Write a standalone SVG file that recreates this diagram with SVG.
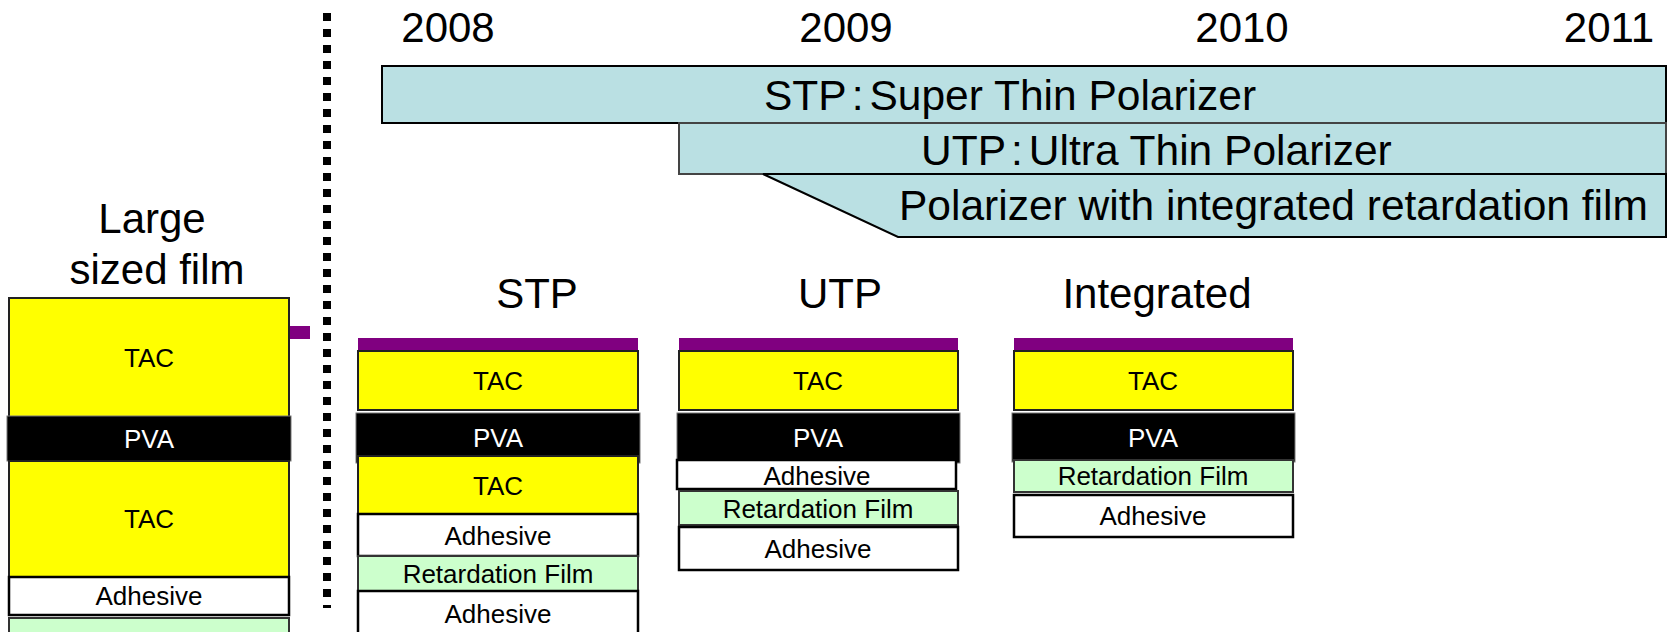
<svg xmlns="http://www.w3.org/2000/svg" width="1668" height="632" viewBox="0 0 1668 632">
  <style>
    text { font-family: "Liberation Sans", Arial, sans-serif; fill: #000; }
    .lbl { font-size: 26px; text-anchor: middle; }
    .big { font-size: 42px; text-anchor: middle; }
    .band-txt { font-size: 42.5px; }
    .wht { fill: #fff; }
    .tac { fill: #FFFF00; stroke: #222; stroke-width: 2; }
    .pva { fill: #000; stroke: #777; stroke-width: 1; }
    .adh { fill: #fff; stroke: #000; stroke-width: 2.5; }
    .ret { fill: #CCFFCC; stroke: #333; stroke-width: 2; }
    .cap { fill: #800080; }
    .band { fill: #BAE0E3; stroke: #000; stroke-width: 2; }
    .band2 { fill: #BAE0E3; stroke: #444; stroke-width: 2; }
  </style>

  <!-- years -->
  <g id="years">
    <text class="big" x="448" y="42">2008</text>
    <text class="big" x="846" y="42">2009</text>
    <text class="big" x="1242" y="42">2010</text>
    <text class="big" x="1609" y="42">2011</text>
  </g>

  <!-- timeline bands -->
  <g id="band-stp">
    <rect class="band" x="382" y="66" width="1284" height="57"/>
    <text class="band-txt" x="764" y="110">STP<tspan dx="5">:</tspan><tspan dx="6">Super Thin Polarizer</tspan></text>
  </g>
  <g id="band-utp">
    <rect class="band2" x="679" y="123" width="987" height="51"/>
    <text class="band-txt" x="921" y="165">UTP<tspan dx="5">:</tspan><tspan dx="6">Ultra Thin Polarizer</tspan></text>
  </g>
  <g id="band-integrated">
    <polygon class="band" points="763,174 1666,174 1666,237 898,237"/>
    <text class="band-txt" x="899" y="220">Polarizer with integrated retardation film</text>
  </g>

  <!-- separator -->
  <g id="connectors">
    <line x1="327" y1="13" x2="327" y2="608" stroke="#000" stroke-width="8" stroke-dasharray="8 8"/>
  </g>

  <!-- large sized film stack -->
  <g id="stack-large">
    <text class="big" x="152" y="233">Large</text>
    <text class="big" x="157" y="284">sized film</text>
    <rect class="cap" x="289" y="326" width="21" height="13"/>
    <rect class="tac" x="9" y="298" width="280" height="119"/>
    <rect class="pva" x="7" y="416" width="284" height="45"/>
    <rect class="tac" x="9" y="461" width="280" height="116"/>
    <rect class="adh" x="9" y="577" width="280" height="38"/>
    <rect class="ret" x="9" y="618" width="280" height="30"/>
    <text class="lbl" x="149" y="367">TAC</text>
    <text class="lbl wht" x="149" y="448">PVA</text>
    <text class="lbl" x="149" y="528">TAC</text>
    <text class="lbl" x="149" y="605">Adhesive</text>
  </g>

  <!-- STP stack -->
  <g id="stack-stp">
    <text class="big" x="537" y="308">STP</text>
    <rect class="cap" x="358" y="338" width="280" height="13"/>
    <rect class="tac" x="358" y="351" width="280" height="59"/>
    <rect class="pva" x="356" y="413" width="284" height="50"/>
    <rect class="tac" x="358" y="456" width="280" height="58"/>
    <rect class="adh" x="358" y="514" width="280" height="42"/>
    <rect class="ret" x="358" y="556" width="280" height="35"/>
    <rect class="adh" x="358" y="591" width="280" height="50"/>
    <text class="lbl" x="498" y="390">TAC</text>
    <text class="lbl wht" x="498" y="447">PVA</text>
    <text class="lbl" x="498" y="495">TAC</text>
    <text class="lbl" x="498" y="545">Adhesive</text>
    <text class="lbl" x="498" y="583">Retardation Film</text>
    <text class="lbl" x="498" y="623">Adhesive</text>
  </g>

  <!-- UTP stack -->
  <g id="stack-utp">
    <text class="big" x="840" y="308">UTP</text>
    <rect class="cap" x="679" y="338" width="279" height="13"/>
    <rect class="tac" x="679" y="351" width="279" height="59"/>
    <rect class="pva" x="677" y="413" width="283" height="50"/>
    <rect class="adh" x="677" y="460" width="279" height="29"/>
    <rect class="ret" x="679" y="491" width="279" height="34"/>
    <rect class="adh" x="679" y="527" width="279" height="43"/>
    <text class="lbl" x="818" y="390">TAC</text>
    <text class="lbl wht" x="818" y="447">PVA</text>
    <text class="lbl" x="817" y="485">Adhesive</text>
    <text class="lbl" x="818" y="518">Retardation Film</text>
    <text class="lbl" x="818" y="558">Adhesive</text>
  </g>

  <!-- integrated stack -->
  <g id="stack-integrated">
    <text class="big" x="1157" y="308">Integrated</text>
    <rect class="cap" x="1014" y="338" width="279" height="13"/>
    <rect class="tac" x="1014" y="351" width="279" height="59"/>
    <rect class="pva" x="1012" y="413" width="283" height="49"/>
    <rect class="ret" x="1014" y="460" width="279" height="32"/>
    <rect class="adh" x="1014" y="495" width="279" height="42"/>
    <text class="lbl" x="1153" y="390">TAC</text>
    <text class="lbl wht" x="1153" y="447">PVA</text>
    <text class="lbl" x="1153" y="485">Retardation Film</text>
    <text class="lbl" x="1153" y="525">Adhesive</text>
  </g>
</svg>
